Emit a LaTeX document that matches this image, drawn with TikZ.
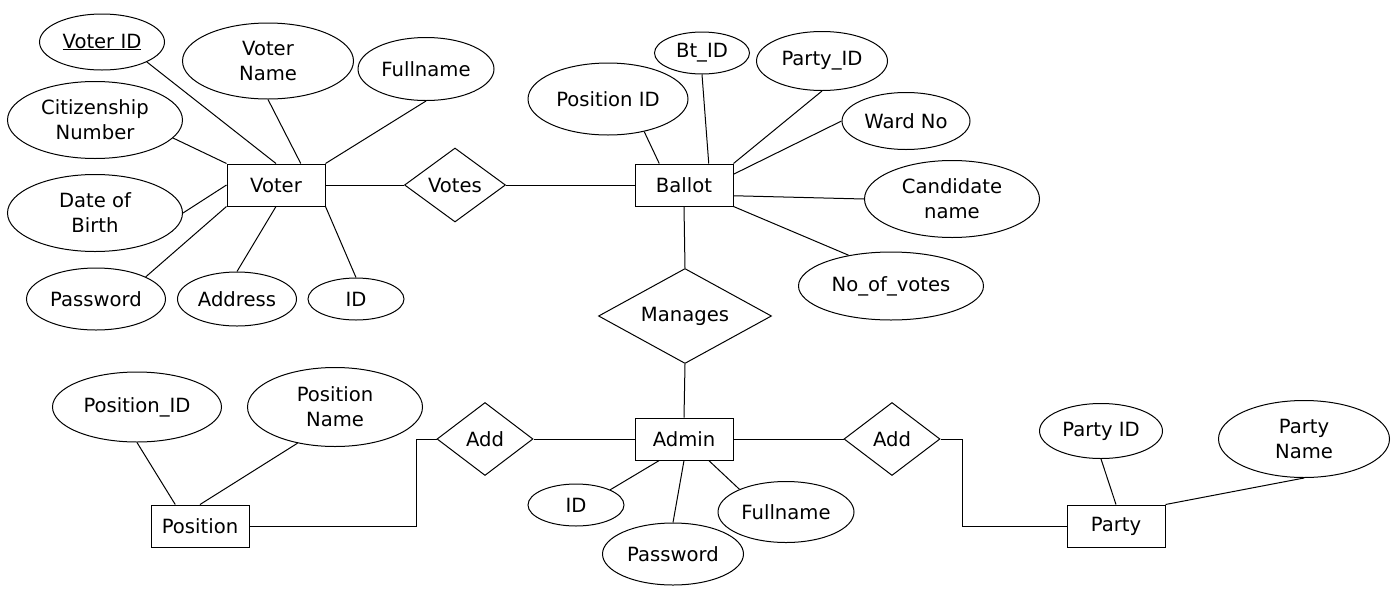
\documentclass[tikz,border=0pt]{standalone}
\usepackage{fontspec}
\setmainfont{DejaVu Sans}
\usepackage{tikz}
\usetikzlibrary{shapes}
\usetikzlibrary{calc}

\begin{document}
\begin{tikzpicture}[x=1pt, y=-1pt, line width=1pt, font=\fontsize{19.6}{25}\selectfont]
    \tikzstyle{entity}=[draw, rectangle, minimum width=98pt, minimum height=42pt, inner sep=0pt]
    \tikzstyle{attr}=[draw, ellipse, inner sep=0pt, align=center]
    \tikzstyle{rel}=[draw, diamond, inner sep=0pt, aspect=1.4]
    \useasboundingbox (0,0) rectangle (1398,595);

    % entities
    \node[entity] (voter) at (276,185) {Voter};
    \node[entity] (ballot) at (684,185) {Ballot};
    \node[entity] (admin) at (684,439) {Admin};
    \node[entity] (pos) at (200,526) {Position};
    \node[entity] (party) at (1116,526) {Party};

    % relations
    \node[rel, minimum width=101pt, minimum height=74pt] (votes) at (455,185) {Votes};
    \node[rel, aspect=1.8, minimum width=173pt, minimum height=95pt] (manages) at (685,316) {Manages};
    \node[rel, minimum width=96pt, minimum height=73pt] (addl) at (485,439) {Add};
    \node[rel, minimum width=96pt, minimum height=73pt] (addr) at (892,439) {Add};

    % voter attributes
    \node[attr, minimum width=125pt, minimum height=56pt] (vid) at (102,42) {\underline{Voter ID}};
    \node[attr, minimum width=171pt, minimum height=76pt] (vname) at (268,61) {Voter\\Name};
    \node[attr, minimum width=136pt, minimum height=63pt] (vfull) at (426,69) {Fullname};
    \node[attr, minimum width=175pt, minimum height=77pt] (vcit) at (95,120) {Citizenship\\Number};
    \node[attr, minimum width=175pt, minimum height=77pt] (vdob) at (95,213) {Date of\\Birth};
    \node[attr, minimum width=139pt, minimum height=62pt] (vpass) at (96,299) {Password};
    \node[attr, minimum width=119pt, minimum height=54pt] (vaddr) at (237,299) {Address};
    \node[attr, minimum width=96pt, minimum height=42pt] (vidn) at (356,299) {ID};

    % ballot attributes
    \node[attr, minimum width=160pt, minimum height=72pt] (bpos) at (608,99) {Position ID};
    \node[attr, minimum width=95pt, minimum height=42pt] (bid) at (702,53) {Bt\_ID};
    \node[attr, minimum width=131pt, minimum height=59pt] (bparty) at (822,61) {Party\_ID};
    \node[attr, minimum width=128pt, minimum height=57pt] (bward) at (906,121) {Ward No};
    \node[attr, minimum width=175pt, minimum height=77pt] (bcand) at (952,199) {Candidate\\name};
    \node[attr, minimum width=185pt, minimum height=68pt] (bvotes) at (891,286) {No\_of\_votes};

    % admin attributes
    \node[attr, minimum width=96pt, minimum height=42pt] (aid) at (576,505) {ID};
    \node[attr, minimum width=141pt, minimum height=62pt] (apass) at (673,554) {Password};
    \node[attr, minimum width=136pt, minimum height=61pt] (afull) at (786,512) {Fullname};

    % position and party attributes
    \node[attr, minimum width=169pt, minimum height=70pt] (pid) at (137,407) {Position\_ID};
    \node[attr, minimum width=175pt, minimum height=79pt] (pname) at (335,407) {Position\\Name};
    \node[attr, minimum width=123pt, minimum height=55pt] (ptid) at (1101,431) {Party ID};
    \node[attr, minimum width=171pt, minimum height=77pt] (ptname) at (1304,439) {Party\\Name};

    % voter links
    \draw (vid.-24) -- (voter.north);
    \draw (vname.south) -- ($(voter.north)!0.5!(voter.north east)$);
    \draw (vfull.south) -- (voter.north east);
    \draw (vcit.-13) -- (voter.north west);
    \draw (vdob.east) -- (voter.west);
    \draw (vpass.24) -- (voter.south west);
    \draw (vaddr.north) -- (voter.south);
    \draw (vidn.north) -- (voter.south east);
    \draw (voter.east) -- (votes.west);
    \draw (votes.east) -- (ballot.west);

    % ballot links
    \draw (bpos.-42) -- ($(ballot.north west)!0.5!(ballot.north)$);
    \draw (bid.south) -- ($(ballot.north)!0.5!(ballot.north east)$);
    \draw (bparty.south) -- (ballot.north east);
    \draw (bward.west) -- ($(ballot.north east)!0.5!(ballot.east)$);
    \draw (bcand.west) -- ($(ballot.east)!0.5!(ballot.south east)$);
    \draw (bvotes.144) -- (ballot.south east);
    \draw (ballot.south) -- (manages.north);
    \draw (manages.south) -- (admin.north);

    % admin links
    \draw (aid.24) -- ($(admin.south west)!0.5!(admin.south)$);
    \draw (apass.north) -- (admin.south);
    \draw (afull.154) -- ($(admin.south)!0.5!(admin.south east)$);
    \draw (admin.west) -- (addl.east);
    \draw (admin.east) -- (addr.west);
    \draw (pos.east) -- ++(167,0) |- (addl.west);
    \draw (addr.east) -- ++(22,0) |- (party.west);

    % position and party links
    \draw (pid.south) -- ($(pos.north west)!0.5!(pos.north)$);
    \draw (pname.-136) -- (pos.north);
    \draw (ptid.south) -- (party.north);
    \draw (ptname.south) -- (party.north east);
\end{tikzpicture}
\end{document}
